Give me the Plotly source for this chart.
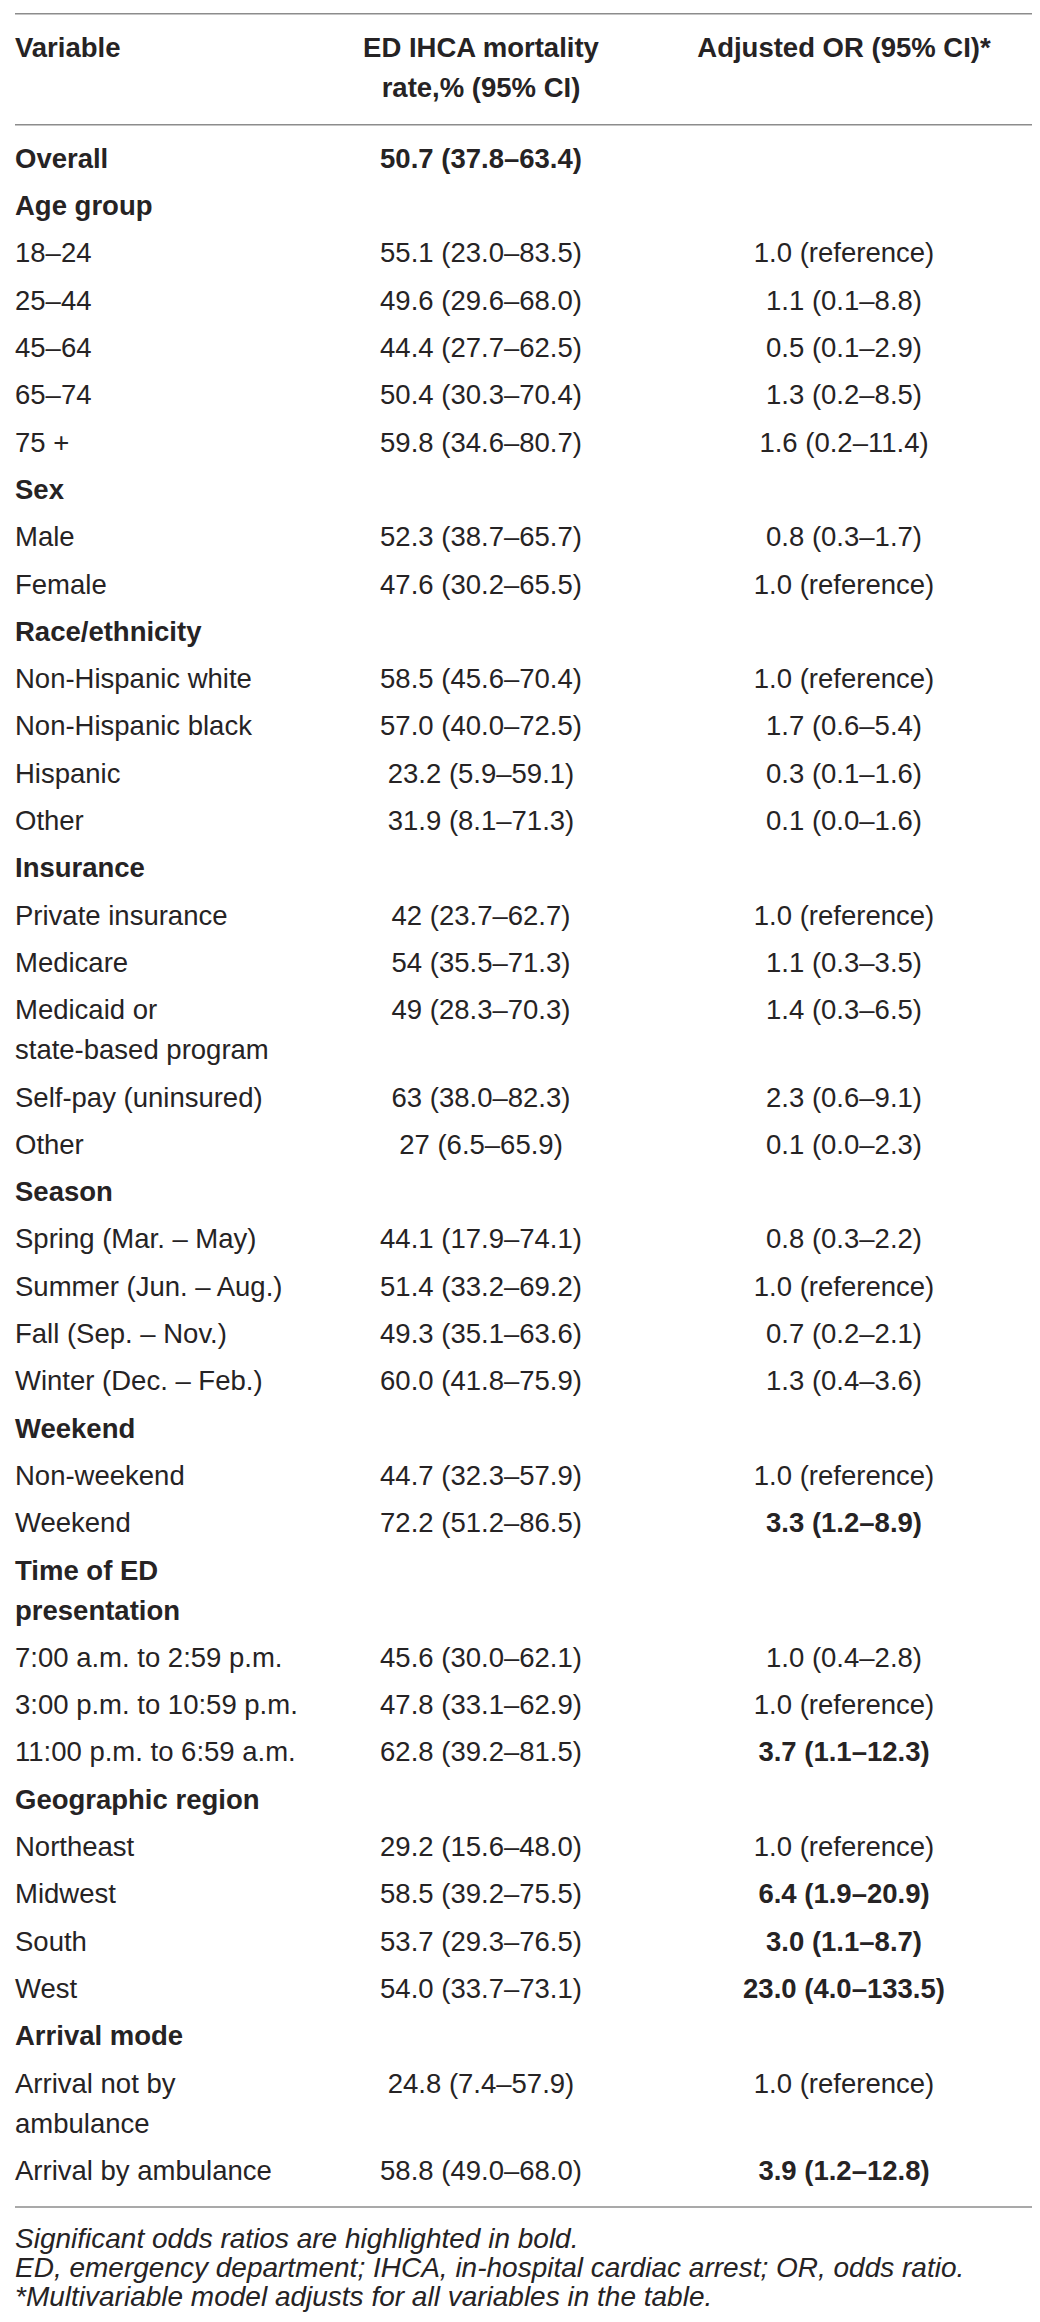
import plotly.graph_objects as go

# ---------------- data ----------------
variables = [
    "Overall", "Age group", "18–24", "25–44", "45–64", "65–74", "75 +",
    "Sex", "Male", "Female",
    "Race/ethnicity", "Non-Hispanic white", "Non-Hispanic black", "Hispanic", "Other",
    "Insurance", "Private insurance", "Medicare", "Medicaid or\nstate-based program",
    "Self-pay (uninsured)", "Other",
    "Season", "Spring (Mar. – May)", "Summer (Jun. – Aug.)", "Fall (Sep. – Nov.)",
    "Winter (Dec. – Feb.)",
    "Weekend", "Non-weekend", "Weekend",
    "Time of ED\npresentation", "7:00 a.m. to 2:59 p.m.", "3:00 p.m. to 10:59 p.m.",
    "11:00 p.m. to 6:59 a.m.",
    "Geographic region", "Northeast", "Midwest", "South", "West",
    "Arrival mode", "Arrival not by\nambulance", "Arrival by ambulance",
]
bold_label = [
    True, True, False, False, False, False, False,
    True, False, False,
    True, False, False, False, False,
    True, False, False, False, False, False,
    True, False, False, False, False,
    True, False, False,
    True, False, False, False,
    True, False, False, False, False,
    True, False, False,
]
mortality = [
    "50.7 (37.8–63.4)", "", "55.1 (23.0–83.5)", "49.6 (29.6–68.0)", "44.4 (27.7–62.5)",
    "50.4 (30.3–70.4)", "59.8 (34.6–80.7)",
    "", "52.3 (38.7–65.7)", "47.6 (30.2–65.5)",
    "", "58.5 (45.6–70.4)", "57.0 (40.0–72.5)", "23.2 (5.9–59.1)", "31.9 (8.1–71.3)",
    "", "42 (23.7–62.7)", "54 (35.5–71.3)", "49 (28.3–70.3)", "63 (38.0–82.3)", "27 (6.5–65.9)",
    "", "44.1 (17.9–74.1)", "51.4 (33.2–69.2)", "49.3 (35.1–63.6)", "60.0 (41.8–75.9)",
    "", "44.7 (32.3–57.9)", "72.2 (51.2–86.5)",
    "", "45.6 (30.0–62.1)", "47.8 (33.1–62.9)", "62.8 (39.2–81.5)",
    "", "29.2 (15.6–48.0)", "58.5 (39.2–75.5)", "53.7 (29.3–76.5)", "54.0 (33.7–73.1)",
    "", "24.8 (7.4–57.9)", "58.8 (49.0–68.0)",
]
bold_mortality = [True] + [False] * (len(variables) - 1)
adjusted_or = [
    "", "", "1.0 (reference)", "1.1 (0.1–8.8)", "0.5 (0.1–2.9)", "1.3 (0.2–8.5)",
    "1.6 (0.2–11.4)",
    "", "0.8 (0.3–1.7)", "1.0 (reference)",
    "", "1.0 (reference)", "1.7 (0.6–5.4)", "0.3 (0.1–1.6)", "0.1 (0.0–1.6)",
    "", "1.0 (reference)", "1.1 (0.3–3.5)", "1.4 (0.3–6.5)", "2.3 (0.6–9.1)", "0.1 (0.0–2.3)",
    "", "0.8 (0.3–2.2)", "1.0 (reference)", "0.7 (0.2–2.1)", "1.3 (0.4–3.6)",
    "", "1.0 (reference)", "3.3 (1.2–8.9)",
    "", "1.0 (0.4–2.8)", "1.0 (reference)", "3.7 (1.1–12.3)",
    "", "1.0 (reference)", "6.4 (1.9–20.9)", "3.0 (1.1–8.7)", "23.0 (4.0–133.5)",
    "", "1.0 (reference)", "3.9 (1.2–12.8)",
]
or_significant = [
    False, False, False, False, False, False, False,
    False, False, False,
    False, False, False, False, False,
    False, False, False, False, False, False,
    False, False, False, False, False,
    False, False, True,
    False, False, False, True,
    False, False, True, True, True,
    False, False, True,
]
headers = ["Variable", "ED IHCA mortality\nrate,% (95% CI)", "Adjusted OR (95% CI)*"]
footnotes = [
    "Significant odds ratios are highlighted in bold.",
    "ED, emergency department; IHCA, in-hospital cardiac arrest; OR, odds ratio.",
    "*Multivariable model adjusts for all variables in the table.",
]

# ---------------- layout constants ----------------
W, H = 1040, 2322
FONT = "Liberation Sans"
TXT = "#262324"
RULE = "#8c8c8c"
FS = 27.5
FS_NOTE = 28
X_LEFT = 7
X_COL2 = 473
X_COL3 = 836
Y_TOP_RULE = 5.7
Y_HEAD = 41.7
Y_HEAD_RULE = 116.7
Y_FIRST = 153
PITCH = 47.3
LINE = 40
NOTE_GAP = 34
NOTE_STEP = 29

# compute row positions (y of first line of each row)
row_y = []
extra = 0.0
for i, v in enumerate(variables):
    row_y.append(Y_FIRST + i * PITCH + extra)
    extra += (v.count("\n")) * LINE
y_bottom_rule = row_y[-1] + 34


def expand(texts, ys, bolds):
    """split multi-line cells into one text point per line"""
    out_t, out_y = [], []
    for t, y, b in zip(texts, ys, bolds):
        if not t:
            continue
        for k, line in enumerate(t.split("\n")):
            out_t.append(f"<b>{line}</b>" if b else line)
            out_y.append(y + k * LINE)
    return out_t, out_y


fig = go.Figure()

# header
for h, x, pos in zip(headers, [X_LEFT, X_COL2, X_COL3],
                     ["middle right", "middle center", "middle center"]):
    t, y = expand([h], [Y_HEAD], [True])
    fig.add_trace(go.Scatter(x=[x] * len(t), y=y, text=t, mode="text",
                             textposition=pos,
                             textfont=dict(family=FONT, size=FS, color=TXT),
                             hoverinfo="skip", showlegend=False))

# body columns
for texts, bolds, x, pos in [
    (variables, bold_label, X_LEFT, "middle right"),
    (mortality, bold_mortality, X_COL2, "middle center"),
    (adjusted_or, or_significant, X_COL3, "middle center"),
]:
    t, y = expand(texts, row_y, bolds)
    fig.add_trace(go.Scatter(x=[x] * len(t), y=y, text=t, mode="text",
                             textposition=pos,
                             textfont=dict(family=FONT, size=FS, color=TXT),
                             hoverinfo="skip", showlegend=False))

# footnotes
note_y = [y_bottom_rule + NOTE_GAP + k * NOTE_STEP for k in range(len(footnotes))]
fig.add_trace(go.Scatter(x=[X_LEFT] * len(footnotes), y=note_y,
                         text=[f"<i>{n}</i>" for n in footnotes], mode="text",
                         textposition="middle right",
                         textfont=dict(family=FONT, size=FS_NOTE, color=TXT),
                         hoverinfo="skip", showlegend=False))

# rules
for yr in [Y_TOP_RULE, Y_HEAD_RULE, y_bottom_rule]:
    fig.add_shape(type="line", xref="x", yref="y", x0=7, x1=1035, y0=yr, y1=yr,
                  line=dict(color=RULE, width=1.6))

fig.update_layout(
    width=W, height=H,
    margin=dict(l=0, r=0, t=0, b=0),
    paper_bgcolor="white", plot_bgcolor="white",
    xaxis=dict(range=[0, W], visible=False, fixedrange=True),
    yaxis=dict(range=[H, 0], visible=False, fixedrange=True),
    hovermode=False,
)

fig.write_html("out.html", config={"displayModeBar": False})
